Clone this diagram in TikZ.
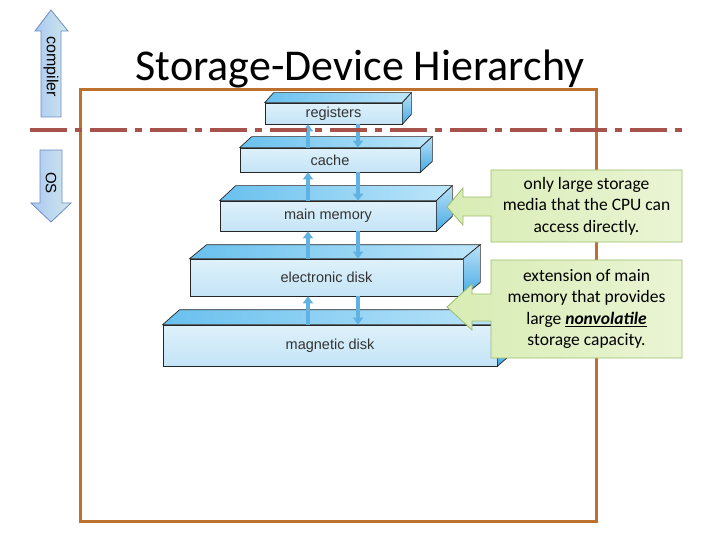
\documentclass[tikz,border=0pt]{standalone}
\usepackage{fontspec}
\setmainfont{Carlito}
\newfontfamily\arialfont{Liberation Sans}
\usepackage{xcolor}
\usepackage{tikz}
\usetikzlibrary{arrows.meta,positioning,calc}

\definecolor{frameorange}{RGB}{190,112,45}
\definecolor{dashred}{RGB}{168,82,76}
\definecolor{slabfront}{RGB}{196,228,246}
\definecolor{slabhi}{RGB}{222,241,251}
\definecolor{slabtopl}{RGB}{105,192,238}
\definecolor{slabtopr}{RGB}{190,230,250}
\definecolor{slabsidet}{RGB}{185,225,247}
\definecolor{slabsideb}{RGB}{70,170,228}
\definecolor{flowblue}{RGB}{95,178,225}
\definecolor{tagfilll}{RGB}{208,232,236}
\definecolor{tagfillr}{RGB}{170,200,242}
\definecolor{tagdraw}{RGB}{110,140,195}
\definecolor{notel}{RGB}{216,236,180}
\definecolor{noter}{RGB}{234,245,212}
\definecolor{notedraw}{RGB}{155,188,105}

\begin{document}
\begin{tikzpicture}[x=1pt, y=-1pt,
    slab/.style={draw=black!85, line width=0.7pt, top color=slabhi, bottom color=slabfront,
      inner sep=0pt, font=\arialfont\fontsize{14.5}{17}\selectfont, text=black!80},
    slabtop/.style={draw=black!85, line width=0.7pt, left color=slabtopl, right color=slabtopr},
    slabside/.style={draw=black!85, line width=0.7pt, top color=slabsidet, bottom color=slabsideb},
    flow/.style={line width=3.8pt, flowblue, -{Triangle[width=10pt,length=7pt]}},
    tag/.style={draw=tagdraw, line width=0.8pt, left color=tagfillr, right color=tagfilll},
    tagtext/.style={rotate=-90, font=\arialfont\fontsize{15}{17}\selectfont},
    note/.style={draw=notedraw, line width=0.8pt, left color=notel, right color=noter},
    notetext/.style={align=center, font=\fontsize{17.5}{21.5}\selectfont}]
    \useasboundingbox (0,0) rectangle (720,540);

    % Title
    \node[anchor=base, font=\fontsize{44}{50}\selectfont] (title) at (360,81) {Storage-Device Hierarchy};

    % frame
    \draw[frameorange, line width=3pt] (80,90) rectangle (596,521);

    % compiler / OS arrows
    \draw[tag] (41,117) -- (41,31) -- (35,31) -- (51,10) -- (68,31) -- (61,31) -- (61,117) -- cycle;
    \node[tagtext, font=\arialfont\fontsize{16}{18}\selectfont] (comp) at (51,67) {compiler};
    \draw[tag] (40,150) -- (62,150) -- (62,203) -- (71,203) -- (51,222) -- (31,203) -- (40,203) -- cycle;
    \node[tagtext] (os) at (51,183) {OS};

    % slabs (front faces)
    \node[slab, minimum width=137, minimum height=21] (reg) at (333.5,113.5) {registers};
    \node[slab, minimum width=180, minimum height=24] (cache) at (330,160) {cache};
    \node[slab, minimum width=216, minimum height=30] (mem) at (328,216) {main memory};
    \node[slab, minimum width=273, minimum height=37] (edisk) at (326.5,277.5) {electronic disk};
    \node[slab, minimum width=334, minimum height=41] (mdisk) at (330,345.5) {magnetic disk};

    % top and side faces
    \foreach \n/\dx/\dy in {reg/9/10, cache/12/11, mem/16/15, edisk/17/14, mdisk/17/15} {
      \draw[slabtop] (\n.north west) -- ++(\dx,-\dy) -- ($(\n.north east)+(\dx,-\dy)$) -- (\n.north east) -- cycle;
      \draw[slabside] (\n.north east) -- ++(\dx,-\dy) -- ($(\n.south east)+(\dx,-\dy)$) -- (\n.south east) -- cycle;
    }

    % up / down transfers
    \coordinate (upx) at (308,0);
    \coordinate (dnx) at (358,0);
    \foreach \u/\l in {reg/cache, cache/mem, mem/edisk, edisk/mdisk} {
      \draw[flow] (\l.north -| upx) -- (\u.south -| upx);
      \draw[flow] (\u.south -| dnx) -- (\l.north -| dnx);
    }

    % dash-dot separator
    \draw[dashred, line width=4pt, dash pattern=on 37pt off 8pt on 7pt off 8pt] (30,130) -- (686,130);

    % callouts
    \draw[note] (491,170) -- (682,170) -- (682,242) -- (491,242) -- (491,216) -- (463,216) -- (463,225)
      -- (447,207) -- (463,188) -- (463,197) -- (491,197) -- cycle;
    \node[notetext] (cpu) at (586.5,206) {only large storage\\media that the CPU can\\access directly.};

    \draw[note] (491,260) -- (682,260) -- (682,358) -- (491,358) -- (491,321) -- (472,321) -- (472,330)
      -- (447,307) -- (472,284) -- (472,294) -- (491,294) -- cycle;
    \node[notetext] (ext) at (586.5,309) {extension of main\\memory that provides\\large \underline{\textbf{\textit{nonvolatile}}}\\storage capacity.};
\end{tikzpicture}
\end{document}
